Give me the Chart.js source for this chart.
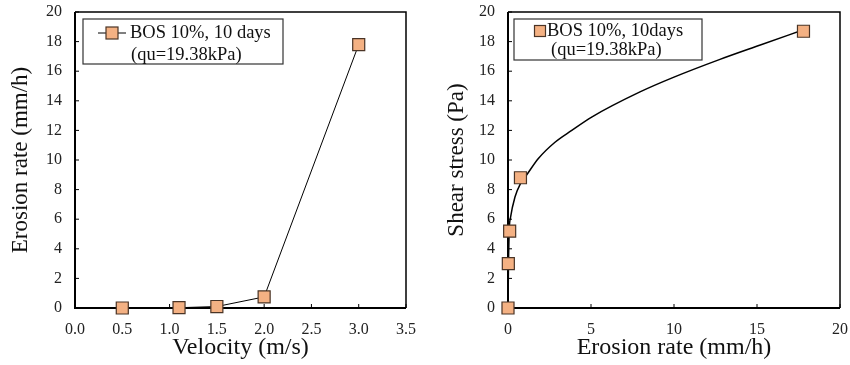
<!DOCTYPE html>
<html>
<head>
<meta charset="utf-8">
<script src="https://cdn.jsdelivr.net/npm/chart.js@4"></script>
<style>
  html, body { margin: 0; padding: 0; background: #fff; }
  .wrap { display: flex; width: 850px; height: 365px; }
  .box { position: relative; width: 425px; height: 365px; }
</style>
</head>
<body>
<div class="wrap">
  <div class="box"><canvas id="left" width="425" height="365"></canvas></div>
  <div class="box"><canvas id="right" width="425" height="365"></canvas></div>
</div>
<script>
// left panel: erosion rate vs velocity
const velocity = [0.5, 1.1, 1.5, 2.0, 3.0];
const erosionRate = [0, 0.02, 0.1, 0.75, 17.8];

// right panel: shear stress vs erosion rate
const shearStress = [0, 3.0, 5.2, 8.8, 18.7];
// trend curve
const trendRate = [0, 0.03, 0.08, 0.15, 0.42, 0.75, 1.13, 1.83, 2.83, 3.84, 5.04, 7.95, 10, 12.77, 15.2, 17.8];
const trendShear = [0, 3.0, 5.4, 6.1, 7.5, 8.4, 9.0, 10.1, 11.2, 12.0, 12.9, 14.6, 15.6, 16.8, 17.77, 18.8];

const legendLines = ['BOS 10%, 10 days', '(qu=19.38kPa)'];
const legendLinesRight = ['BOS 10%, 10days', '(qu=19.38kPa)'];

const serif = "'Liberation Serif', 'Times New Roman', serif";
const markFill = '#f4b183';
const markEdge = '#4a3426';

// box around plot + small inward ticks
const frame = {
  id: 'frame',
  beforeDatasetsDraw(chart) {
    const { ctx, chartArea: a, scales: { x, y } } = chart;
    ctx.save();
    ctx.strokeStyle = '#000';
    ctx.lineWidth = 1.5;
    ctx.beginPath();
    ctx.moveTo(a.left, a.top);
    ctx.lineTo(a.right, a.top);
    ctx.lineTo(a.right, a.bottom);
    ctx.stroke();
    ctx.lineWidth = 2;
    ctx.beginPath();
    ctx.moveTo(a.left, a.top);
    ctx.lineTo(a.left, a.bottom);
    ctx.lineTo(a.right, a.bottom);
    ctx.stroke();
    ctx.lineWidth = 1;
    ctx.beginPath();
    y.ticks.forEach(t => {
      const py = y.getPixelForValue(t.value);
      ctx.moveTo(a.left, py);
      ctx.lineTo(a.left + 4, py);
    });
    x.ticks.forEach(t => {
      const px = x.getPixelForValue(t.value);
      ctx.moveTo(px, a.bottom);
      ctx.lineTo(px, a.bottom - 4);
    });
    ctx.stroke();
    ctx.restore();
  }
};

// two-line legend box
const boxLegend = {
  id: 'boxLegend',
  afterDraw(chart, args, opts) {
    const ctx = chart.ctx;
    ctx.save();
    ctx.fillStyle = '#fff';
    ctx.fillRect(opts.x, opts.y, opts.w, opts.h);
    ctx.strokeStyle = '#333';
    ctx.lineWidth = 1.2;
    ctx.strokeRect(opts.x, opts.y, opts.w, opts.h);
    if (opts.line) {
      ctx.strokeStyle = '#000';
      ctx.lineWidth = 1;
      ctx.beginPath();
      ctx.moveTo(opts.mx - 14, opts.my);
      ctx.lineTo(opts.mx + 14, opts.my);
      ctx.stroke();
    }
    ctx.fillStyle = markFill;
    ctx.strokeStyle = markEdge;
    ctx.lineWidth = 1.2;
    ctx.fillRect(opts.mx - opts.ms / 2, opts.my - opts.ms / 2, opts.ms, opts.ms);
    ctx.strokeRect(opts.mx - opts.ms / 2, opts.my - opts.ms / 2, opts.ms, opts.ms);
    ctx.fillStyle = '#111';
    ctx.font = '18.5px ' + serif;
    ctx.textBaseline = 'middle';
    ctx.fillText(opts.text[0], opts.tx1, opts.ty1);
    ctx.fillText(opts.text[1], opts.tx2, opts.ty2);
    ctx.restore();
  }
};

function axes(xMin, xMax, xStep, xTitle, yTitle, yTitlePad, yWidth, xFmt) {
  return {
    x: {
      type: 'linear', min: xMin, max: xMax,
      afterFit: s => { s.height = 57; s.paddingLeft = 0; s.paddingRight = 0; },
      grid: { display: false, drawTicks: false },
      border: { display: false },
      ticks: { stepSize: xStep, padding: 12, color: '#222', font: { family: serif, size: 16 }, callback: xFmt },
      title: { display: true, text: xTitle, color: '#111', font: { family: serif, size: 24 }, padding: { bottom: 3 } }
    },
    y: {
      min: 0, max: 20,
      afterFit: s => { s.width = yWidth; s.paddingTop = 0; s.paddingBottom = 0; },
      grid: { display: false, drawTicks: false },
      border: { display: false },
      ticks: { stepSize: 2, padding: 13, color: '#222', font: { family: serif, size: 16 } },
      title: { display: true, text: yTitle, color: '#111', font: { family: serif, size: 23 }, padding: { top: yTitlePad } }
    }
  };
}

new Chart(document.getElementById('left'), {
  type: 'line',
  data: {
    datasets: [{
      data: velocity.map((v, i) => ({ x: v, y: erosionRate[i] })),
      borderColor: '#000',
      borderWidth: 1,
      pointStyle: 'rect',
      pointRadius: 8.5,
      pointBackgroundColor: markFill,
      pointBorderColor: markEdge,
      pointBorderWidth: 1.2,
      tension: 0,
      clip: false
    }]
  },
  options: {
    responsive: false,
    animation: false,
    layout: { padding: { left: 0, right: 19, top: 12, bottom: 0 } },
    plugins: {
      legend: { display: false },
      tooltip: { enabled: false },
      boxLegend: { x: 83, y: 19, w: 200, h: 45, line: true, mx: 112, my: 33, ms: 12,
        text: legendLines, tx1: 130, ty1: 33, tx2: 131, ty2: 55 }
    },
    scales: axes(0, 3.5, 0.5, 'Velocity (m/s)', 'Erosion rate (mm/h)', 7, 75, v => v.toFixed(1))
  },
  plugins: [frame, boxLegend]
});

new Chart(document.getElementById('right'), {
  type: 'scatter',
  data: {
    datasets: [{
      type: 'line',
      data: trendRate.map((v, i) => ({ x: v, y: trendShear[i] })),
      borderColor: '#000',
      borderWidth: 1.5,
      pointRadius: 0,
      cubicInterpolationMode: 'monotone',
      clip: false,
      order: 2
    }, {
      data: erosionRate.map((v, i) => ({ x: v, y: shearStress[i] })),
      pointStyle: 'rect',
      pointRadius: 8.5,
      backgroundColor: markFill,
      borderColor: markEdge,
      borderWidth: 1.2,
      clip: false,
      order: 1
    }]
  },
  options: {
    responsive: false,
    animation: false,
    layout: { padding: { left: 0, right: 10, top: 12, bottom: 0 } },
    plugins: {
      legend: { display: false },
      tooltip: { enabled: false },
      boxLegend: { x: 89, y: 19, w: 188, h: 41, line: false, mx: 115, my: 31, ms: 11,
        text: legendLinesRight, tx1: 122, ty1: 31, tx2: 126, ty2: 50 }
    },
    scales: axes(0, 20, 5, 'Erosion rate (mm/h)', 'Shear stress (Pa)', 18, 83)
  },
  plugins: [frame, boxLegend]
});
</script>
</body>
</html>
